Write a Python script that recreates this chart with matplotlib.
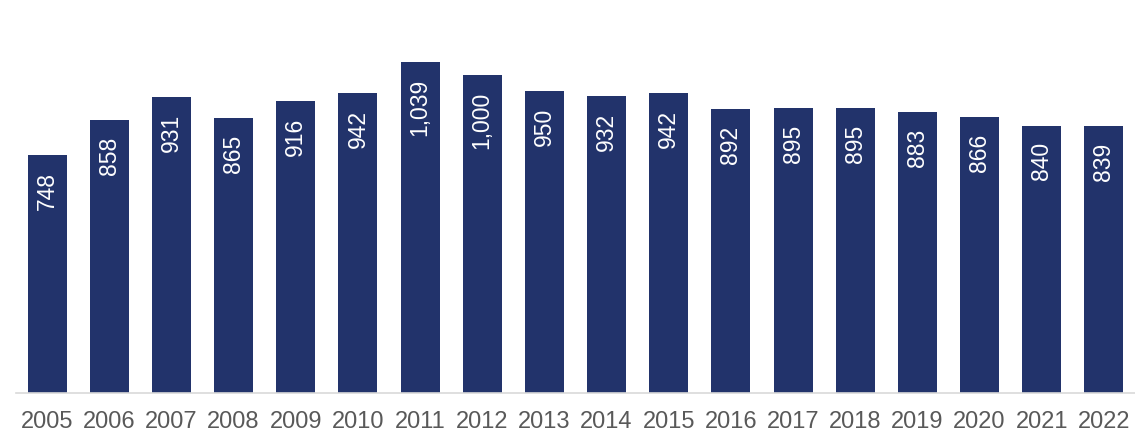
import matplotlib.pyplot as plt

years = ['2005', '2006', '2007', '2008', '2009', '2010', '2011', '2012', '2013',
         '2014', '2015', '2016', '2017', '2018', '2019', '2020', '2021', '2022']
values = [748, 858, 931, 865, 916, 942, 1039, 1000, 950,
          932, 942, 892, 895, 895, 883, 866, 840, 839]

plt.rcParams['font.family'] = ['Liberation Sans', 'DejaVu Sans']

W, H = 1135, 433
fig = plt.figure(figsize=(W / 100, H / 100), dpi=100)
ax = fig.add_axes([16 / W, 40 / H, 1119 / W, 382 / H])

x = range(len(years))
bars = ax.bar(x, values, width=0.63, color='#22336b')

# value labels, rotated, inside the top of each bar
for xi, v in zip(x, values):
    ax.annotate(f'{v:,}', (xi, v), xytext=(0, -12), textcoords='offset points',
                rotation=90, ha='center', va='top', color='white', fontsize=16.5)

ax.set_xlim(-0.5, len(years) - 0.5)
ax.set_ylim(0, 1200)
ax.set_xticks(list(x))
ax.set_xticklabels(years, fontsize=17, color='#595959')
ax.tick_params(axis='x', length=0, pad=13)
ax.set_yticks([])
for side in ['left', 'right', 'top']:
    ax.spines[side].set_visible(False)
ax.spines['bottom'].set_color('#d9d9d9')
ax.spines['bottom'].set_linewidth(1.2)

fig.savefig('out.png', dpi=100)
